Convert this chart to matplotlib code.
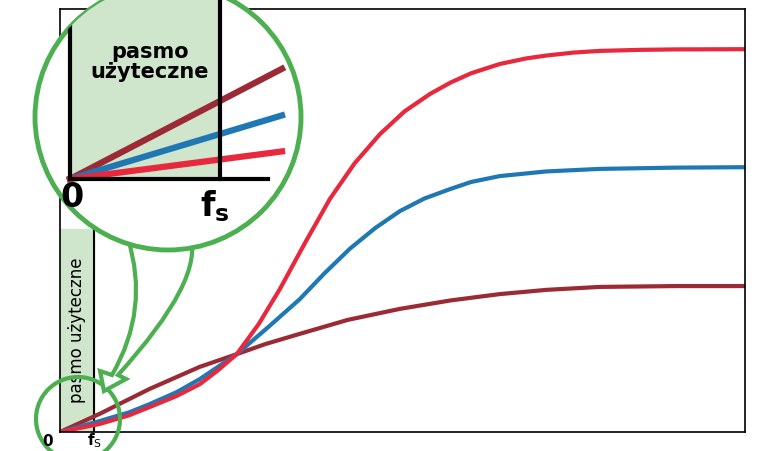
import numpy as np
import matplotlib
matplotlib.use("Agg")
import matplotlib.pyplot as plt
from matplotlib.patches import Circle, Rectangle, PathPatch
from matplotlib.path import Path

red_x = [0, 5.8, 10, 13.1, 17, 20.4, 23, 25.8, 29, 32.1, 35.8, 39.4, 43, 46.7, 50.3, 54.0, 57, 60, 64.2, 68, 71, 75, 78.8, 85, 90, 100]
red_y = [0, 1.9, 3.9, 5.9, 8.5, 11.3, 14.5, 18.4, 25.5, 33.8, 44.8, 55.1, 63.5, 70.4, 75.8, 79.9, 82.6, 84.8, 87, 88.3, 89, 89.7, 90.1, 90.35, 90.45, 90.5]
blue_x = [0, 5.8, 10, 13.1, 17, 20.4, 25.8, 30.4, 35, 38.6, 42.3, 46, 49.6, 53.2, 56.9, 60, 64.2, 71, 78.8, 90, 100]
blue_y = [0, 2.6, 4.6, 6.6, 9.4, 12.5, 18.4, 24.8, 31.4, 37.5, 43.3, 48.2, 52.2, 55.2, 57.4, 59.1, 60.5, 61.6, 62.2, 62.5, 62.6]
brown_x = [0, 5.8, 13.1, 20.4, 25.8, 30, 35, 42, 49.6, 57, 64.2, 71, 78.8, 90, 100]
brown_y = [0, 4.3, 10.2, 15.4, 18.4, 20.8, 23.2, 26.5, 29.1, 31.1, 32.6, 33.6, 34.3, 34.5, 34.5]
fs = 5.0
inset_names = ["brown", "blue", "red"]
inset_slopes = [0.52, 0.30, 0.13]

RED, BLUE, BROWN, GREEN = "#e8283c", "#1f78b4", "#9b2a35", "#4caf50"
BAND = "#cfe5cc"

fig = plt.figure(figsize=(7.7, 4.52), dpi=100)
W, H = 770, 452
ax = fig.add_axes([60/W, 19/H, 685/W, 423/H])
ax.set_xlim(0, 100); ax.set_ylim(0, 100)
ax.axvspan(0, fs, ymin=0, ymax=(433-230)/423, color=BAND, zorder=0)
ax.plot([fs, fs], [0, (433-230)/4.23], color="black", lw=1.5)
ax.plot(brown_x, brown_y, color=BROWN, lw=3)
ax.plot(blue_x, blue_y, color=BLUE, lw=3)
ax.plot(red_x, red_y, color=RED, lw=3)
ax.set_xticks([]); ax.set_yticks([])
for s in ax.spines.values():
    s.set_linewidth(1.2)
ax.text(fs/2, (433-330)/4.23, "pasmo użyteczne", rotation=90, ha="center", va="center", fontsize=12)

o = fig.add_axes([0, 0, 1, 1])
o.set_xlim(0, W); o.set_ylim(H, 0); o.axis("off"); o.patch.set_alpha(0)
o.add_patch(Circle((78, 420), 42, fill=False, ec=GREEN, lw=3))
o.text(48, 442, "0", fontsize=11, fontweight="bold", ha="center", va="center")
o.text(95, 441, "f$_\\mathrm{S}$", fontsize=11, fontweight="bold", ha="center", va="center")
verts = [(128, 240), (150, 310), (112, 376), (100, 372), (104, 392), (126, 380), (118, 376),
         (205, 280), (190, 236), (128, 240)]
codes = [Path.MOVETO, Path.CURVE3, Path.CURVE3, Path.LINETO, Path.LINETO, Path.LINETO, Path.LINETO,
         Path.CURVE3, Path.CURVE3, Path.CLOSEPOLY]
o.add_patch(PathPatch(Path(verts, codes), fc="white", ec=GREEN, lw=3, zorder=3))
circ = Circle((168, 118), 133, fc="white", ec=GREEN, lw=3.5, zorder=4)
o.add_patch(circ)
band = Rectangle((70, -20), 150, 200, fc=BAND, ec="none", zorder=5)
o.add_patch(band); band.set_clip_path(circ)
x0, y0, x1 = 70, 180, 282
for name, k, c in zip(inset_names, inset_slopes, [BROWN, BLUE, RED]):
    ln, = o.plot([x0, x1], [y0, y0 - k * (x1 - x0)], color=c, lw=4.5, zorder=6)
    ln.set_clip_path(circ)
for xs, ys in [([70, 70], [-20, 180]), ([70, 268], [180, 180]), ([220, 220], [-20, 180])]:
    ln, = o.plot(xs, ys, color="black", lw=3, zorder=7)
    ln.set_clip_path(circ)
o.text(150, 62, "pasmo\nużyteczne", fontsize=15, fontweight="bold", ha="center", va="center", zorder=8, linespacing=1.0)
o.text(72, 198, "0", fontsize=24, fontweight="bold", ha="center", va="center", zorder=8)
o.text(215, 206, "f$_\\mathbf{s}$", fontsize=24, fontweight="bold", ha="center", va="center", zorder=8)
fig.savefig("out.png", dpi=100)
